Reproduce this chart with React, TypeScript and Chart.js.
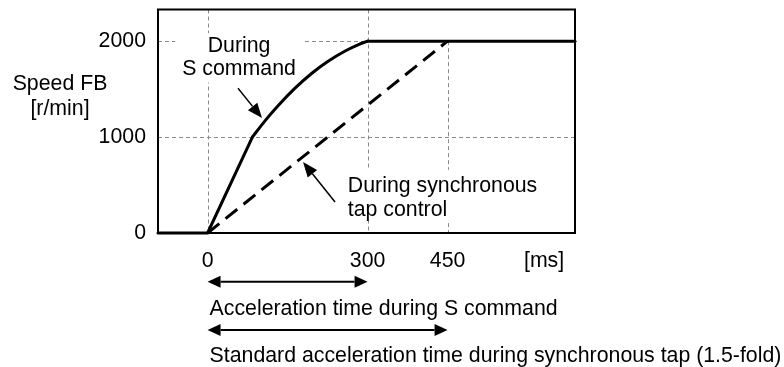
import React, { useEffect, useRef } from 'react';
import { Chart, registerables } from 'chart.js';

Chart.register(...registerables);

// ---- data ----
const timeMin = -93;
const timeMax = 689;
const speedMin = 0;
const speedMax = 2330;

const xTickValues = [0, 300, 450];
const xUnitTick = 631;
const xUnitLabel = '[ms]';
const yTickValues = [0, 1000, 2000];
const yTitleLines = ['Speed FB', '[r/min]'];

// speed feedback during S command (solid): linear ramp, curved part, plateau
const sRampTimes = [-93, 0, 84];
const sRampSpeeds = [0, 0, 1000];
const sCurveTimes = [84, 108, 133, 164, 195, 226, 258, 283, 300];
const sCurveSpeeds = [1000, 1172, 1332, 1510, 1663, 1790, 1897, 1964, 2000];
const sPlateauTimes = [300, 689];
const sPlateauSpeeds = [2000, 2000];

// speed feedback during synchronous tap control (dashed)
const syncTapTimes = [0, 450];
const syncTapSpeeds = [0, 2000];

const sAccelEnd = 300;
const plateauSpeed = 2000;

const sLabelLines = ['During', 'S command'];
const syncLabelLines = ['During synchronous', 'tap control'];

const spanEnds = [300, 450];
const spanLabels = [
  'Acceleration time during S command',
  'Standard acceleration time during synchronous tap (1.5-fold)',
];

// ---- styling ----
const FAMILY = "'Liberation Sans', Arial, sans-serif";
const FONT_PX = 21.3;
const FONT = `${FONT_PX}px ${FAMILY}`;
const GRID_COLOR = '#8a8a8a';

function arrowHead(ctx: CanvasRenderingContext2D, x1: number, y1: number, x2: number, y2: number, len: number, w: number) {
  const a = Math.atan2(y2 - y1, x2 - x1);
  const bx = x2 - len * Math.cos(a);
  const by = y2 - len * Math.sin(a);
  ctx.beginPath();
  ctx.moveTo(x2, y2);
  ctx.lineTo(bx + (w / 2) * Math.sin(a), by - (w / 2) * Math.cos(a));
  ctx.lineTo(bx - (w / 2) * Math.sin(a), by + (w / 2) * Math.cos(a));
  ctx.closePath();
  ctx.fill();
  return [bx, by];
}

function arrow(ctx: CanvasRenderingContext2D, x1: number, y1: number, x2: number, y2: number, len: number, w: number, lw: number, both = false) {
  ctx.lineWidth = lw;
  const [bx, by] = arrowHead(ctx, x1, y1, x2, y2, len, w);
  let sx = x1, sy = y1;
  if (both) {
    const r = arrowHead(ctx, x2, y2, x1, y1, len, w);
    sx = r[0]; sy = r[1];
  }
  ctx.beginPath();
  ctx.moveTo(sx, sy);
  ctx.lineTo(bx, by);
  ctx.stroke();
}

const LINE_GAP = 23.5;

function textBlock(ctx: CanvasRenderingContext2D, lines: string[], x: number, baseline: number, align: CanvasTextAlign, padX: number, padTop: number, padBottom: number) {
  ctx.font = FONT;
  const widths = lines.map((l) => ctx.measureText(l).width);
  const maxW = Math.max(...widths);
  const left = align === 'center' ? x - maxW / 2 : x;
  const top = baseline - 15.5 - padTop;
  const bottom = baseline + LINE_GAP * (lines.length - 1) + 4.5 + padBottom;
  ctx.fillStyle = '#fff';
  ctx.fillRect(left - padX, top, maxW + padX * 2, bottom - top);
  ctx.fillStyle = '#000';
  ctx.textAlign = align;
  ctx.textBaseline = 'alphabetic';
  lines.forEach((l, i) => ctx.fillText(l, x, baseline + i * LINE_GAP));
}

const annotationPlugin = {
  id: 'speedAnnotations',
  beforeDatasetsDraw(chart: any) {
    const { ctx, chartArea: ca, scales } = chart;
    const x = scales.x, y = scales.y;
    ctx.save();
    ctx.strokeStyle = GRID_COLOR;
    ctx.lineWidth = 1;
    ctx.setLineDash([4, 3]);
    xTickValues.forEach((v) => {
      const X = Math.round(x.getPixelForValue(v)) + 0.5;
      const top = v > sAccelEnd ? y.getPixelForValue(plateauSpeed) : ca.top;
      ctx.beginPath();
      ctx.moveTo(X, top);
      ctx.lineTo(X, ca.bottom);
      ctx.stroke();
    });
    yTickValues.filter((v) => v > speedMin).forEach((v) => {
      const Y = Math.round(y.getPixelForValue(v)) + 0.5;
      const right = v >= plateauSpeed ? x.getPixelForValue(sAccelEnd) : ca.right;
      ctx.beginPath();
      ctx.moveTo(ca.left, Y);
      ctx.lineTo(right, Y);
      ctx.stroke();
    });
    ctx.setLineDash([]);

    // text labels with white backgrounds
    textBlock(ctx, sLabelLines, x.getPixelForValue(59), y.getPixelForValue(1891), 'center', 7, 3, 3);
    textBlock(ctx, syncLabelLines, x.getPixelForValue(263), y.getPixelForValue(424), 'left', 7, 7, 0);
    ctx.restore();
  },
  afterDatasetsDraw(chart: any) {
    const { ctx, chartArea: ca, scales } = chart;
    const x = scales.x, y = scales.y;
    ctx.save();
    ctx.fillStyle = '#000';
    ctx.strokeStyle = '#000';
    ctx.lineCap = 'butt';

    // pointer arrows
    arrow(ctx, x.getPixelForValue(57), y.getPixelForValue(1510), x.getPixelForValue(102), y.getPixelForValue(1198), 15, 12, 1.5);
    arrow(ctx, x.getPixelForValue(239), y.getPixelForValue(323), x.getPixelForValue(179), y.getPixelForValue(740), 15, 12, 1.5);

    // plot frame
    ctx.lineWidth = 2;
    ctx.strokeRect(ca.left, ca.top, ca.right - ca.left, ca.bottom - ca.top);

    // y title
    ctx.font = FONT;
    ctx.textAlign = 'center';
    ctx.textBaseline = 'alphabetic';
    ctx.fillText(yTitleLines[0], 60, 89.6);
    ctx.fillText(yTitleLines[1], 60, 115);

    // span arrows below the axis
    const x0 = x.getPixelForValue(xTickValues[0]);
    const spanY = [281.7, 330];
    const spanTextY = [314.5, 362.3];
    spanEnds.forEach((end, i) => {
      arrow(ctx, x0, spanY[i], x.getPixelForValue(end), spanY[i], 13, 12, 2, true);
      ctx.textAlign = 'left';
      ctx.fillText(spanLabels[i], x0 + 2, spanTextY[i]);
    });
    ctx.restore();
  },
};

const solidStyle = {
  borderColor: '#000',
  borderWidth: 3,
  pointRadius: 0,
  fill: false,
  clip: 6,
  borderJoinStyle: 'round',
  borderCapStyle: 'round',
};

const pts = (ts: number[], vs: number[]) => ts.map((t, i) => ({ x: t, y: vs[i] }));

export default function App() {
  const ref = useRef<HTMLCanvasElement>(null);
  useEffect(() => {
    const canvas = ref.current!;
    const font = { family: FAMILY, size: FONT_PX };
    const chart = new Chart(canvas, {
      type: 'line',
      data: {
        datasets: [
          { label: 'During S command (ramp)', data: pts(sRampTimes, sRampSpeeds), tension: 0, ...solidStyle } as any,
          { label: 'During S command (curve)', data: pts(sCurveTimes, sCurveSpeeds), cubicInterpolationMode: 'monotone', ...solidStyle } as any,
          { label: 'During S command (plateau)', data: pts(sPlateauTimes, sPlateauSpeeds), tension: 0, ...solidStyle } as any,
          {
            label: 'During synchronous tap control',
            data: pts(syncTapTimes, syncTapSpeeds),
            borderColor: '#000',
            borderWidth: 3,
            borderDash: [15, 8],
            pointRadius: 0,
            tension: 0,
            fill: false,
            clip: 6,
          } as any,
        ],
      },
      options: {
        responsive: false,
        animation: false,
        devicePixelRatio: 1,
        layout: { padding: { left: 0, top: 9.5, right: 209, bottom: 0 } },
        plugins: { legend: { display: false }, tooltip: { enabled: false } },
        scales: {
          x: {
            type: 'linear',
            min: timeMin,
            max: timeMax,
            grid: { display: false, drawTicks: false },
            border: { display: false },
            afterBuildTicks: (s: any) => {
              s.ticks = [...xTickValues, xUnitTick].map((v) => ({ value: v }));
            },
            afterFit: (s: any) => {
              s.height = 134;
              s.paddingLeft = 0;
              s.paddingRight = 0;
            },
            ticks: {
              autoSkip: false,
              maxRotation: 0,
              padding: 15,
              color: '#000',
              font,
              callback: (v: any) => (v === xUnitTick ? xUnitLabel : String(v)),
            },
          },
          y: {
            type: 'linear',
            min: speedMin,
            max: speedMax,
            grid: { display: false, drawTicks: false },
            border: { display: false },
            afterBuildTicks: (s: any) => {
              s.ticks = yTickValues.map((v) => ({ value: v }));
            },
            afterFit: (s: any) => {
              s.width = 158;
              s.paddingTop = 0;
              s.paddingBottom = 0;
            },
            ticks: {
              autoSkip: false,
              padding: 12,
              color: '#000',
              font,
              callback: (v: any) => String(v),
            },
          },
        },
      } as any,
      plugins: [annotationPlugin],
    });
    return () => chart.destroy();
  }, []);
  return (
    <div style={{ position: 'fixed', left: 0, top: 0, width: 784, height: 367, background: '#fff' }}>
      <canvas ref={ref} width={784} height={367} style={{ display: 'block' }} />
    </div>
  );
}
